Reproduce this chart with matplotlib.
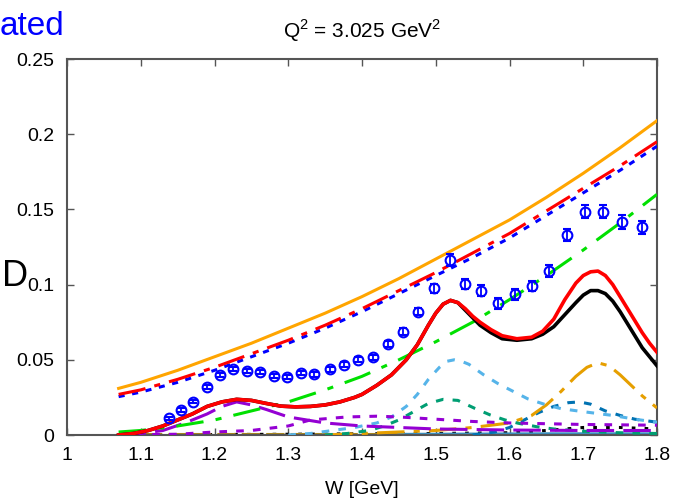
import numpy as np
import matplotlib
matplotlib.use("Agg")
import matplotlib.pyplot as plt

plt.rcParams['font.family'] = ['Liberation Sans', 'DejaVu Sans']
plt.rcParams['mathtext.fontset'] = 'custom'
plt.rcParams['mathtext.rm'] = 'Liberation Sans'

# --- data ---
# measured points with errors
w_data = [1.138, 1.155, 1.171, 1.190, 1.2075, 1.2255, 1.2437, 1.262, 1.280, 1.298,
          1.317, 1.335, 1.356, 1.375, 1.395, 1.4145, 1.435, 1.455, 1.4755, 1.497,
          1.519, 1.540, 1.562, 1.585, 1.607, 1.630, 1.654, 1.678, 1.702, 1.727,
          1.753, 1.779]
d_data = [0.011, 0.0166, 0.0222, 0.0321, 0.040, 0.0437, 0.0428, 0.0417, 0.0392, 0.0386,
          0.0414, 0.0403, 0.0437, 0.0468, 0.050, 0.0516, 0.0605, 0.0687, 0.082, 0.0975,
          0.1164, 0.1004, 0.096, 0.0876, 0.0935, 0.099, 0.109, 0.133, 0.1485, 0.1485,
          0.1418, 0.138]
d_err = [0.0012, 0.0012, 0.0012, 0.0013, 0.0013, 0.0013, 0.0013, 0.0013, 0.0014, 0.0014,
         0.0014, 0.0015, 0.0015, 0.0016, 0.0017, 0.0018, 0.0020, 0.0022, 0.0025, 0.0030,
         0.0040, 0.0035, 0.0035, 0.0035, 0.0035, 0.0035, 0.0038, 0.0042, 0.0045, 0.0045,
         0.0045, 0.0045]

# smooth envelope curves
w_env = [1.07, 1.1, 1.15, 1.2, 1.25, 1.3, 1.35, 1.4, 1.45, 1.5, 1.55, 1.6, 1.65,
         1.7, 1.75, 1.8]
orange_solid = [0.031, 0.035, 0.043, 0.052, 0.061, 0.071, 0.081, 0.092, 0.104, 0.117,
                0.130, 0.143, 0.158, 0.174, 0.191, 0.209]
red_dashdot = [0.027, 0.030, 0.037, 0.045, 0.054, 0.063, 0.073, 0.084, 0.096, 0.108,
               0.121, 0.134, 0.149, 0.164, 0.179, 0.195]
blue_dotted = [0.0255, 0.0285, 0.035, 0.043, 0.052, 0.061, 0.071, 0.082, 0.094, 0.106,
               0.118, 0.131, 0.146, 0.161, 0.176, 0.192]
green_dashdot = [0.002, 0.003, 0.006, 0.010, 0.016, 0.022, 0.030, 0.039, 0.050, 0.062,
                 0.075, 0.090, 0.106, 0.123, 0.141, 0.160]

# total curves
w_tot = [1.07, 1.09, 1.11, 1.13, 1.15, 1.17, 1.19, 1.21, 1.23, 1.25, 1.27, 1.29, 1.31,
         1.33, 1.35, 1.37, 1.39, 1.40, 1.42, 1.44, 1.46, 1.475, 1.49, 1.50, 1.51, 1.52,
         1.53, 1.54, 1.55, 1.56, 1.575, 1.59, 1.61, 1.63, 1.645, 1.66, 1.675, 1.69,
         1.70, 1.71, 1.72, 1.73, 1.74, 1.75, 1.76, 1.77, 1.78, 1.79, 1.8]
red_total = [0.000, 0.001, 0.003, 0.006, 0.010, 0.014, 0.019, 0.022, 0.0237, 0.023,
             0.021, 0.0192, 0.0187, 0.019, 0.020, 0.022, 0.025, 0.027, 0.033, 0.040,
             0.050, 0.060, 0.073, 0.081, 0.087, 0.0895, 0.088, 0.084, 0.079, 0.075,
             0.070, 0.066, 0.064, 0.065, 0.069, 0.077, 0.090, 0.101, 0.106, 0.1085,
             0.109, 0.106, 0.100, 0.092, 0.084, 0.076, 0.068, 0.061, 0.055]
black_total = [0.000, 0.001, 0.003, 0.006, 0.010, 0.014, 0.019, 0.022, 0.0237, 0.023,
               0.021, 0.0192, 0.0187, 0.019, 0.020, 0.022, 0.025, 0.027, 0.033, 0.040,
               0.050, 0.060, 0.073, 0.081, 0.087, 0.0895, 0.088, 0.083, 0.078, 0.073,
               0.068, 0.064, 0.063, 0.064, 0.067, 0.072, 0.080, 0.088, 0.093, 0.096,
               0.096, 0.094, 0.089, 0.082, 0.074, 0.066, 0.058, 0.052, 0.046]

# small contributions
w_pl = [1.07, 1.1, 1.13, 1.16, 1.19, 1.21, 1.23, 1.25, 1.27, 1.3, 1.35, 1.4, 1.45,
        1.5, 1.6, 1.7, 1.8]
purple_long = [0.000, 0.001, 0.003, 0.008, 0.014, 0.019, 0.022, 0.020, 0.017, 0.012,
               0.008, 0.006, 0.005, 0.004, 0.0033, 0.003, 0.003]

w_ps = [1.07, 1.15, 1.2, 1.25, 1.3, 1.33, 1.38, 1.42, 1.45, 1.5, 1.55, 1.6, 1.7, 1.8]
purple_short = [0.000, 0.0005, 0.002, 0.003, 0.006, 0.010, 0.012, 0.0125, 0.012, 0.0105,
                0.009, 0.008, 0.007, 0.0065]

w_lb = [1.3, 1.33, 1.36, 1.39, 1.42, 1.44, 1.46, 1.475, 1.49, 1.505, 1.515, 1.525,
        1.535, 1.545, 1.565, 1.585, 1.605, 1.625, 1.65, 1.67, 1.7, 1.74, 1.77, 1.8]
lightblue = [0.000, 0.001, 0.003, 0.005, 0.008, 0.012, 0.019, 0.027, 0.037, 0.045,
             0.049, 0.050, 0.049, 0.047, 0.040, 0.034, 0.029, 0.024, 0.020, 0.0175,
             0.0155, 0.013, 0.0105, 0.0085]

w_teal = [1.35, 1.38, 1.41, 1.43, 1.45, 1.47, 1.49, 1.51, 1.53, 1.553, 1.574, 1.594,
          1.612, 1.637, 1.66, 1.7, 1.75, 1.8]
teal = [0.000, 0.001, 0.003, 0.006, 0.010, 0.0155, 0.021, 0.0237, 0.023, 0.0177,
        0.0133, 0.010, 0.0078, 0.0055, 0.004, 0.0025, 0.0015, 0.001]

w_od = [1.35, 1.4, 1.45, 1.5, 1.55, 1.6, 1.63, 1.65, 1.67, 1.69, 1.705, 1.72, 1.735,
        1.75, 1.765, 1.78, 1.8]
orange_dash = [0.000, 0.001, 0.002, 0.003, 0.005, 0.008, 0.013, 0.020, 0.029, 0.039,
               0.045, 0.048, 0.046, 0.040, 0.033, 0.026, 0.018]

w_db = [1.55, 1.58, 1.6, 1.62, 1.64, 1.66, 1.68, 1.695, 1.71, 1.73, 1.75, 1.77, 1.8]
darkblue = [0.000, 0.002, 0.005, 0.010, 0.015, 0.019, 0.0215, 0.022, 0.0205, 0.016,
            0.013, 0.0105, 0.0085]

w_base = [1.07, 1.2, 1.3, 1.4, 1.5, 1.6, 1.65, 1.7, 1.75, 1.8]
black_dots = [0.000, 0.0003, 0.0005, 0.0008, 0.001, 0.0015, 0.003, 0.005, 0.005, 0.004]
olive = [0.0006, 0.0006, 0.0006, 0.0006, 0.0006, 0.0006, 0.0006, 0.0006, 0.0006, 0.0006]

w_sb = [1.45, 1.55, 1.65, 1.75, 1.8]
steelblue = [0.0004, 0.0006, 0.0008, 0.0008, 0.0008]

x_ticks = [1.0, 1.1, 1.2, 1.3, 1.4, 1.5, 1.6, 1.7, 1.8]
x_labels = ['1', '1.1', '1.2', '1.3', '1.4', '1.5', '1.6', '1.7', '1.8']
y_ticks = [0, 0.05, 0.1, 0.15, 0.2, 0.25]
y_labels = ['0', '0.05', '0.1', '0.15', '0.2', '0.25']


def main():
    fig = plt.figure(figsize=(6.82, 5.04), dpi=100)
    ax = fig.add_axes([67 / 682, 1 - 435 / 504, 590 / 682, 376 / 504])

    lw = 2.2
    # bottom contributions
    ax.plot(w_base, black_dots, color='black', lw=lw, dashes=(1.2, 3), zorder=2)
    ax.plot(w_base, olive, color='#A8861C', lw=lw, dashes=(6, 2), zorder=2)
    ax.plot(w_sb, steelblue, color='#3A8FC0', lw=lw, zorder=2)
    ax.plot(w_db, darkblue, color='#0072B2', lw=lw, dashes=(2.5, 3), zorder=3)
    ax.plot(w_od, orange_dash, color='#E69F00', lw=lw, dashes=(9, 3, 2, 3), zorder=3)
    ax.plot(w_teal, teal, color='#009E73', lw=lw, dashes=(2.5, 3), zorder=3)
    ax.plot(w_lb, lightblue, color='#56B4E9', lw=lw, dashes=(2.5, 3), zorder=3)
    ax.plot(w_ps, purple_short, color='#9400D3', lw=lw, dashes=(2.5, 3), zorder=3)
    ax.plot(w_pl, purple_long, color='#9400D3', lw=lw, dashes=(9, 3), zorder=3)

    # envelopes
    ax.plot(w_env, green_dashdot, color='#00E000', lw=lw, dashes=(9, 4, 2, 4), zorder=4)
    ax.plot(w_env, blue_dotted, color='#0000FF', lw=lw, dashes=(2, 2.5), zorder=4)
    ax.plot(w_env, red_dashdot, color='#FF0000', lw=lw, dashes=(9, 3, 2, 3), zorder=4)
    ax.plot(w_env, orange_solid, color='#FFA500', lw=lw, zorder=4)

    # totals
    ax.plot(w_tot, black_total, color='black', lw=2.6, zorder=5)
    ax.plot(w_tot, red_total, color='#FF0000', lw=2.6, zorder=5)

    # data
    ax.errorbar(w_data, d_data, yerr=d_err, fmt='o', ms=7, mfc='none', mec='#0000FF',
                mew=1.5, ecolor='#0000FF', elinewidth=1.3, capsize=3, capthick=1.3,
                zorder=6)

    ax.set_xlim(1.0, 1.8)
    ax.set_ylim(0, 0.25)
    ax.set_xticks(x_ticks)
    ax.set_xticklabels(x_labels)
    ax.set_yticks(y_ticks)
    ax.set_yticklabels(y_labels)
    ax.tick_params(direction='in', length=5, width=1, colors='#555555',
                   labelcolor='black', labelsize=14, top=True, right=True, pad=9)
    for s in ax.spines.values():
        s.set_color('#555555')
        s.set_linewidth(1.5)

    ax.set_xlabel('W [GeV]', fontsize=14, labelpad=12)
    ax.set_title('Q$^2$ = 3.025 GeV$^2$', fontsize=15, pad=15)

    fig.text(0.0, 1 - 35 / 504, 'ated', color='#0000FF', fontsize=24, va='baseline')
    fig.text(0.003, 1 - 286 / 504, 'D', color='black', fontsize=26, va='baseline')

    fig.savefig('out.png', dpi=100)


if __name__ == "__main__":
    main()
